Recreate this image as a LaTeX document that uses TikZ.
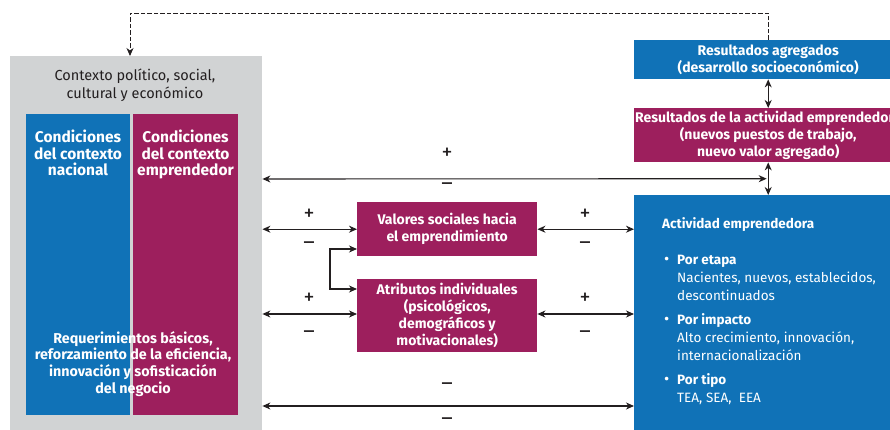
\documentclass[tikz,border=0pt]{standalone}
\usepackage{fontspec}
\setmainfont{Fira Sans}
\usetikzlibrary{arrows.meta,calc}
\definecolor{gblue}{RGB}{16,114,183}
\definecolor{gpurple}{RGB}{157,31,93}
\definecolor{ggray}{RGB}{209,211,212}
\definecolor{gtext}{RGB}{35,31,32}
\tikzset{
  area/.style={draw=none, anchor=north west, inner sep=0pt},
  wtxt/.style={text=white, font=\bfseries\fontsize{14}{17}\selectfont, align=center, inner sep=0pt},
  ctitle/.style={text=white, font=\bfseries\fontsize{15.5}{16.5}\selectfont, align=center, inner sep=0pt, anchor=north},
  sign/.style={text=gtext, font=\fontsize{22}{22}\selectfont, inner sep=0pt},
  conn/.style={draw=gtext, line width=1.1pt, {Stealth[length=8pt,width=7pt,inset=2.5pt]}-{Stealth[length=8pt,width=7pt,inset=2.5pt]}},
  oneway/.style={draw=gtext, line width=1.1pt, -{Stealth[length=8pt,width=7pt,inset=2.5pt]}},
}
\begin{document}
\begin{tikzpicture}[x=1pt,y=-1pt]
\useasboundingbox (0,0) rectangle (890,430);
\clip (0,0) rectangle (890,430);
% context box
\node[area, fill=ggray, minimum width=252pt, minimum height=380pt] (ctx) at (10,56) {};
\node[text=gtext, font=\fontsize{14.5}{18}\selectfont, align=center, inner sep=0pt, anchor=north] (ctxt) at (135,69) {Contexto político, social,\\cultural y económico};
\node[area, fill=gblue, minimum width=104pt, minimum height=301pt] (nac) at (26,114) {};
\node[area, fill=gpurple, minimum width=105pt, minimum height=301pt] (emp) at (133,114) {};
\node[ctitle] (nact) at (78,130) {Condiciones\\del contexto\\nacional};
\node[ctitle] (empt) at (185.5,130) {Condiciones\\del contexto\\emprendedor};
\node[wtxt, font=\bfseries\fontsize{14.3}{16.8}\selectfont, anchor=north] (req) at (133,331) {Requerimientos básicos,\\reforzamiento de la eficiencia,\\innovación y sofisticación\\del negocio};
% middle boxes
\node[area, fill=gpurple, minimum width=180pt, minimum height=54pt] (val) at (357,202) {};
\node[wtxt] (valt) at (val.center) {Valores sociales hacia\\el emprendimiento};
\node[area, fill=gpurple, minimum width=180pt, minimum height=73pt] (atr) at (357,279) {};
\node[wtxt] (atrt) at (atr.center) {Atributos individuales\\(psicológicos,\\demográficos y\\motivacionales)};
% right boxes
\node[area, fill=gblue, minimum width=268pt, minimum height=39pt] (agr) at (634,40) {};
\node[wtxt] (agrt) at (agr.center) {Resultados agregados\\(desarrollo socioeconómico)};
\node[area, fill=gpurple, minimum width=268pt, minimum height=54pt] (res) at (634,108) {};
\node[wtxt] (rest) at (res.center) {Resultados de la actividad emprendedora\\(nuevos puestos de trabajo,\\nuevo valor agregado)};
\node[area, fill=gblue, minimum width=268pt, minimum height=240pt] (act) at (634,195) {};
\node[text=white, font=\bfseries\fontsize{13.5}{18}\selectfont, align=left, inner sep=0pt, anchor=north west] (actt) at (662,217) {Actividad emprendedora};
\node[text=white, inner sep=0pt, anchor=north west] (actl) at (664,255) {%
\begin{minipage}[t]{220pt}\fontsize{13.5}{18}\selectfont
\leftskip=13pt \parindent=-13pt
\makebox[13pt][l]{\fontsize{16}{16}\selectfont•}\textbf{Por etapa}\\
Nacientes, nuevos, establecidos,\\
descontinuados\par\vspace{6pt}
\makebox[13pt][l]{\fontsize{16}{16}\selectfont•}\textbf{Por impacto}\\
Alto crecimiento, innovación,\\
internacionalización\par\vspace{6pt}
\makebox[13pt][l]{\fontsize{16}{16}\selectfont•}\textbf{Por tipo}\\
TEA, SEA,\ \ EEA\par
\end{minipage}};
% connectors
\coordinate (m) at ($(res.south)!0.5!(act.north)$);
\draw[conn] (agr.south) -- (res.north);
\draw[conn] (res.south) -- (act.north);
\draw[conn, shorten >=1.5pt] (ctx.east |- 0,179) -- (m);
\draw[conn] (ctx.east |- val.west) -- (val.west);
\draw[conn] (val.east) -- (act.west |- val.east);
\draw[conn] (ctx.east |- 0,314) -- (atr.west |- 0,314);
\draw[conn] (atr.east |- 0,314) -- (act.west |- 0,314);
\draw[conn] (val.west |- 0,249) -| (330,289) -- (atr.west |- 0,289);
\draw[conn] (ctx.east |- 0,406) -- (act.west |- 0,406);
\coordinate (dtop) at (130,13);
\draw[oneway, line width=0.9pt, dashed, dash pattern=on 4.5pt off 2pt] (agr.north) |- (dtop) -- (dtop |- ctx.north);
% signs
\node[sign] (p1) at (447,154) {+};
\node[sign] (n1) at (447,187) {–};
\node[sign] (p2) at (309,215) {+};
\node[sign] (n2) at (309,246) {–};
\node[sign] (p3) at (585,215) {+};
\node[sign] (n3) at (585,246) {–};
\node[sign] (p4) at (309,299) {+};
\node[sign] (n4) at (309,335) {–};
\node[sign] (p5) at (585,299) {+};
\node[sign] (n5) at (585,335) {–};
\node[sign] (n6) at (447,387) {–};
\node[sign] (n7) at (447,422) {–};
\end{tikzpicture}
\end{document}
